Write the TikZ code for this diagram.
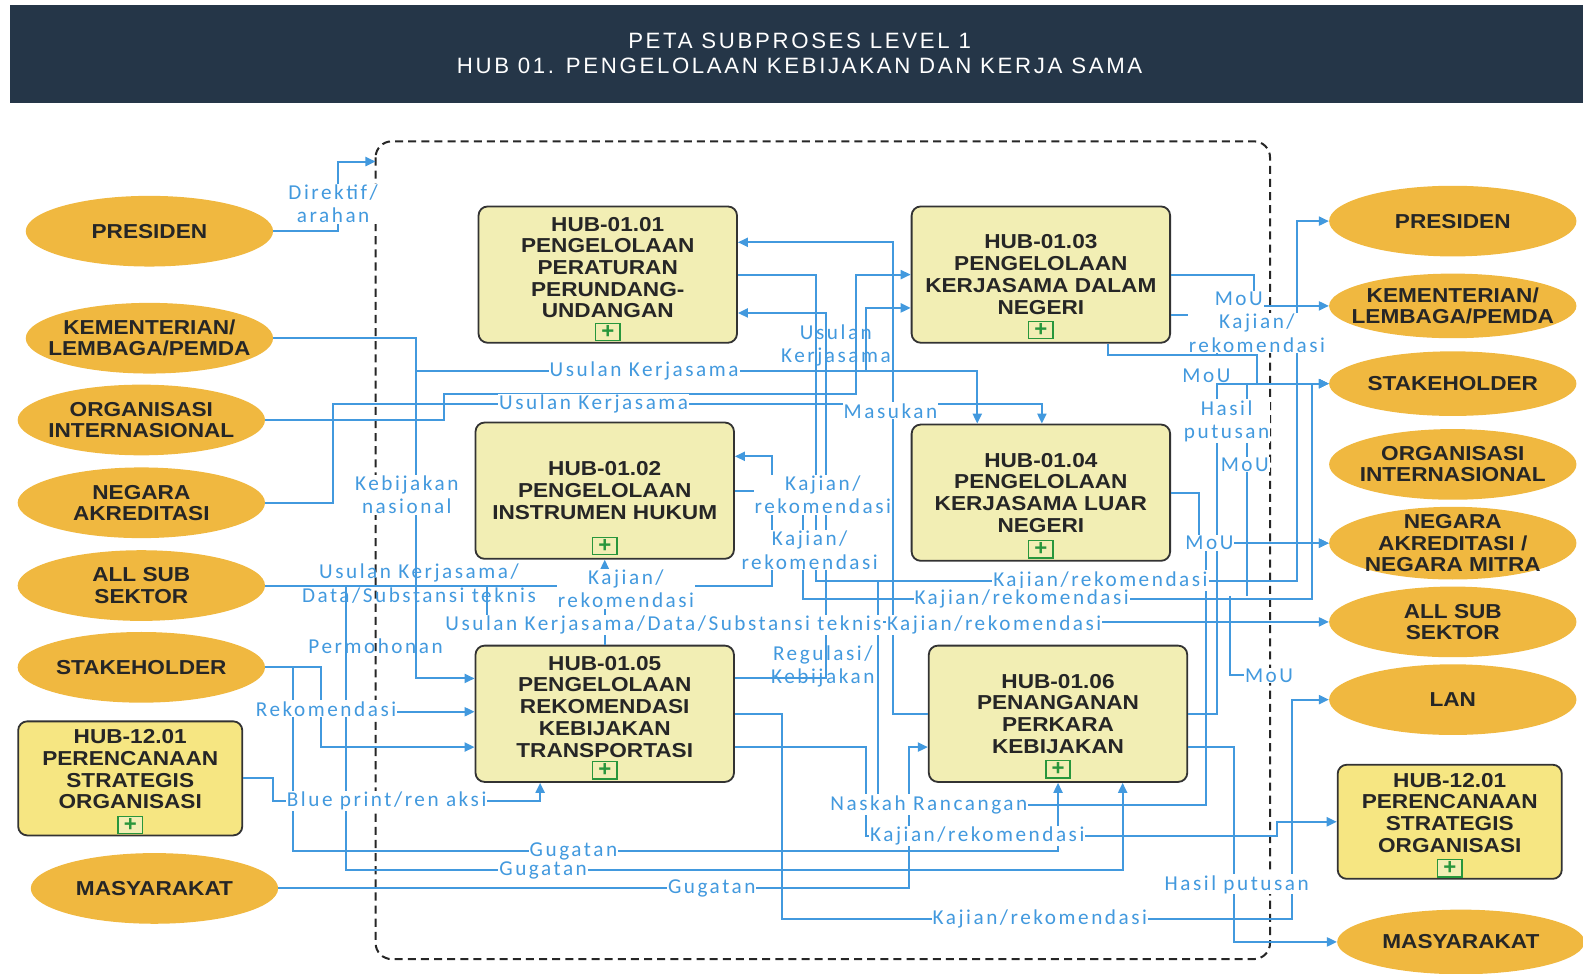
\documentclass[tikz,border=0pt]{standalone}
\usepackage{fontspec}
\setmainfont{Liberation Sans}
\newfontfamily\boxfont[FakeStretch=1.12]{Liberation Sans}
\newfontfamily\flowfont[LetterSpace=12]{Carlito}
\newfontfamily\titlefont[LetterSpace=12]{Liberation Sans}
\usetikzlibrary{shapes.geometric, arrows.meta, positioning}
\definecolor{hubnavy}{RGB}{37,54,72}
\definecolor{hubgold}{RGB}{240,184,64}
\definecolor{hubcream}{RGB}{242,238,180}
\definecolor{hubyellow}{RGB}{246,230,130}
\definecolor{hubblue}{RGB}{66,153,222}
\definecolor{hubgreen}{RGB}{40,150,60}

\begin{document}
\begin{tikzpicture}[x=1pt, y=-1pt,
    actor/.style={ellipse, fill=hubgold, minimum width=245pt, minimum height=70pt, inner sep=0pt},
    actortext/.style={font=\boxfont\bfseries\fontsize{20}{21}\selectfont, align=center, text=black!85},
    proc/.style={rectangle, rounded corners=9pt, draw=black!80, line width=1.8pt, fill=hubcream, minimum width=256pt, minimum height=135pt},
    proctext/.style={font=\boxfont\bfseries\fontsize{20}{21.5}\selectfont, align=center, text=black!85},
    extproc/.style={proc, fill=hubyellow, minimum width=222pt, minimum height=113pt},
    subicon/.style={draw=hubgreen, line width=1.4pt, fill=hubcream, minimum width=24pt, minimum height=17pt, inner sep=0pt, font=\bfseries\fontsize{22}{22}\selectfont, text=hubgreen},
    flow/.style={draw=hubblue, line width=2pt, -{Triangle[length=10pt,width=9pt]}},
    link/.style={draw=hubblue, line width=2pt},
    flowtext/.style={font=\flowfont\fontsize{21}{23}\selectfont, text=hubblue, fill=white, inner sep=1pt, align=center},
    rawtext/.style={flowtext, fill=none}
]
\useasboundingbox (0,0) rectangle (1568,964);

% title bar
\fill[hubnavy] (10,5) rectangle (1568,102);
\node[font=\titlefont\fontsize{22}{25}\selectfont, text=white, align=center] (title) at (792,53)
    {PETA SUBPROSES LEVEL 1\\HUB 01. PENGELOLAAN KEBIJAKAN DAN KERJA SAMA};

% process boundary
\draw[black!85, line width=2pt, dash pattern=on 8pt off 5pt, rounded corners=16pt] (372,140) rectangle (1258,950);
\coordinate (dirIn) at (372,160);

% actors on the left
\node[actor, label={[actortext]center:PRESIDEN}] (presL) at (148,229) {};
\node[actor, label={[actortext]center:{KEMENTERIAN/\\LEMBAGA/PEMDA}}] (kemL) at (148,335) {};
\node[actor, label={[actortext]center:{ORGANISASI\\INTERNASIONAL}}] (orgL) at (140,416) {};
\node[actor, label={[actortext]center:{NEGARA\\AKREDITASI}}] (negL) at (140,498) {};
\node[actor, label={[actortext]center:{ALL SUB\\SEKTOR}}] (allL) at (140,580) {};
\node[actor, label={[actortext]center:STAKEHOLDER}] (stkL) at (140,661) {};
\node[extproc, label={[proctext,yshift=9pt]center:{HUB-12.01\\PERENCANAAN\\STRATEGIS\\ORGANISASI}}] (hubL) at (129,771) {};
\node[subicon] (hubLi) at (129,817) {+};
\node[actor, label={[actortext]center:MASYARAKAT}] (masL) at (153,880) {};

% actors on the right
\node[actor, label={[actortext]center:PRESIDEN}] (presR) at (1439,219) {};
\node[actor, minimum height=64pt, label={[actortext]center:{KEMENTERIAN/\\LEMBAGA/PEMDA}}] (kemR) at (1439,303) {};
\node[actor, minimum height=64pt, label={[actortext]center:STAKEHOLDER}] (stkR) at (1439,380) {};
\node[actor, label={[actortext]center:{ORGANISASI\\INTERNASIONAL}}] (orgR) at (1439,460) {};
\node[actor, minimum height=72pt, label={[actortext]center:{NEGARA\\AKREDITASI /\\NEGARA MITRA}}] (negR) at (1439,538) {};
\node[actor, label={[actortext]center:{ALL SUB\\SEKTOR}}] (allR) at (1439,616) {};
\node[actor, label={[actortext]center:LAN}] (lanR) at (1439,693) {};
\node[extproc, label={[proctext,yshift=9pt]center:{HUB-12.01\\PERENCANAAN\\STRATEGIS\\ORGANISASI}}] (hubR) at (1436,814) {};
\node[subicon] (hubRi) at (1436,860) {+};
\node[actor, minimum height=64pt, label={[actortext]center:MASYARAKAT}] (masR) at (1447,933) {};

% sub processes
\node[proc, label={[proctext,yshift=7pt]center:{HUB-01.01\\PENGELOLAAN\\PERATURAN\\PERUNDANG-\\UNDANGAN}}] (b1) at (602,272) {};
\node[proc, label={[proctext]center:{HUB-01.02\\PENGELOLAAN\\INSTRUMEN HUKUM}}] (b2) at (599,486) {};
\node[proc, label={[proctext]center:{HUB-01.03\\PENGELOLAAN\\KERJASAMA DALAM\\NEGERI}}] (b3) at (1031,272) {};
\node[proc, label={[proctext]center:{HUB-01.04\\PENGELOLAAN\\KERJASAMA LUAR\\NEGERI}}] (b4) at (1031,488) {};
\node[proc, label={[proctext,yshift=7pt]center:{HUB-01.05\\PENGELOLAAN\\REKOMENDASI\\KEBIJAKAN\\TRANSPORTASI}}] (b5) at (599,707) {};
\node[proc, label={[proctext]center:{HUB-01.06\\PENANGANAN\\PERKARA\\KEBIJAKAN}}] (b6) at (1048,707) {};
\node[subicon] (b1i) at (602,329) {+};
\node[subicon] (b2i) at (599,541) {+};
\node[subicon] (b3i) at (1031,327) {+};
\node[subicon] (b4i) at (1031,544) {+};
\node[subicon] (b5i) at (599,763) {+};
\node[subicon] (b6i) at (1048,762) {+};

% split points
\coordinate (kemSplit) at (412,367);
\coordinate (usulSplit) at (858,367);
\coordinate (allSplit) at (482,580);
\coordinate (allDown) at (343,580);
\coordinate (stkSplit) at (290,705);
\coordinate (kajSplit) at (870,575);
\coordinate (mouJoin) at (1245,352);
\coordinate (stkTap) at (1235,380);
\coordinate (mouEnd) at (1232,669);

% inputs from the left
\draw[flow] (presL.east) -| (335,160) -- (dirIn);
\draw[flow] (kemL.east) -| (412,672) -- (b5.west |- 0,672);
\draw[flow] (kemSplit) -| (b4.north -| 968,0);
\draw[flow] (orgL.east) -| (440,390) -| (848,272) -- (b3.west);
\draw[flow] (negL.east) -| (330,400) -| (b4.north -| 1032,0);
\draw[flow] (usulSplit) |- (b3.west |- 0,305);
\draw[flow] (allL.east) -| (765,452) -- (b2.east |- 0,452);
\draw[flow] (allSplit) |- (allR.west);
\draw[flow] (allDown) |- (1112,862) -- (b6.south -| 1112,0);
\draw[flow] (stkL.east) -| (290,843) -| (b6.south -| 1048,0);
\draw[flow] (stkL.east) -| (318,740) -- (b5.west |- 0,740);
\draw[flow] (stkSplit) -- (b5.west |- 0,705);
\draw[flow] (hubL.east) -| (270,793) -| (b5.south -| 535,0);
\draw[flow] (masL.east) -| (900,740) -- (b6.west |- 0,740);

% between sub processes
\draw[flow] (b1.east) -| (808,575) -| (1285,219) -- (presR.west);
\draw[flow] (b6.west) -| (885,240) -- (b1.east |- 0,240);
\draw[flow] (b5.east |- 0,672) -| (818,310) -- (b1.east |- 0,310);
\draw[flow] (b5.north) -- (b2.south);
\draw[flow] (b2.east) -| (795,593) -| (1300,380) -- (stkR.west);
\draw[flow] (b5.east |- 0,740) -| (858,828) -| (1265,814) -- (hubR.west);
\draw[flow] (b5.east) -| (775,910) -| (1280,693) -- (lanR.west);
\draw[flow] (kajSplit) |- (1195,797) |- (negR.west);

% outputs to the right
\draw[flow] (b3.east) -| (1242,303) -- (kemR.west);
\draw[flow] (b3.east |- 0,312) -| (1205,352) -| (1245,380) -- (stkR.west);
\draw[link] (b3.south -| 1097,0) |- (mouJoin);
\draw[flow] (b4.east) -| (1188,538) -- (negR.west);
\draw[flow] (b6.east) -| (1205,380) -- (stkR.west);
\draw[flow] (b6.east |- 0,740) -| (1222,933) -- (masR.west);
\draw[link] (stkTap) -- (1235,590);
\draw[link] (1218,590) |- (mouEnd);

% labels
\node[flowtext] (lDir) at (330,202) {Direktif/\\arahan};
\node[flowtext] (lUs1) at (638,367) {Usulan Kerjasama};
\node[flowtext] (lUs2) at (588,400) {Usulan Kerjasama};
\node[rawtext] (lUs3) at (828,342) {Usulan\\Kerjasama};
\node[flowtext] (lMas) at (882,407) {Masukan};
\node[flowtext] (lKeb) at (403,490) {Kebijakan\\nasional};
\node[flowtext] (lKr1) at (815,490) {Kajian/\\rekomendasi};
\node[flowtext] (lKr2) at (802,545) {Kajian/\\rekomendasi};
\node[rawtext] (lUsD) at (415,578) {Usulan Kerjasama/\\Data/Substansi teknis};
\node[flowtext, anchor=west] (lUsL) at (440,619) {Usulan Kerjasama/Data/Substansi teknis};
\node[flowtext] (lKr3) at (620,583) {Kajian/\\rekomendasi};
\node[flowtext, right=3pt of lUsL] (lKr4) {Kajian/rekomendasi};
\node[flowtext] (lKr5) at (1090,575) {Kajian/rekomendasi};
\node[flowtext] (lKr6) at (1012,593) {Kajian/rekomendasi};
\node[rawtext] (lPer) at (372,640) {Permohonan};
\node[flowtext] (lRek) at (323,702) {Rekomendasi};
\node[flowtext] (lBlu) at (383,793) {Blue print/ren aksi};
\node[rawtext] (lReg) at (815,660) {Regulasi/\\Kebijakan};
\node[flowtext] (lNas) at (920,797) {Naskah Rancangan};
\node[flowtext] (lKr7) at (968,828) {Kajian/rekomendasi};
\node[flowtext] (lGu1) at (568,843) {Gugatan};
\node[flowtext] (lGu2) at (538,862) {Gugatan};
\node[flowtext] (lGu3) at (705,880) {Gugatan};
\node[flowtext] (lKr8) at (1030,910) {Kajian/rekomendasi};
\node[flowtext] (lHp1) at (1225,876) {Hasil putusan};
\node[flowtext] (lMo1) at (1227,296) {MoU};
\node[flowtext] (lKr9) at (1245,330) {Kajian/\\rekomendasi};
\node[flowtext] (lMo2) at (1195,372) {MoU};
\node[flowtext] (lHp2) at (1215,417) {Hasil\\putusan};
\node[flowtext] (lMo3) at (1233,460) {MoU};
\node[flowtext] (lMo4) at (1198,538) {MoU};
\node[flowtext, anchor=west] (lMo5) at (mouEnd) {MoU};
\end{tikzpicture}
\end{document}
